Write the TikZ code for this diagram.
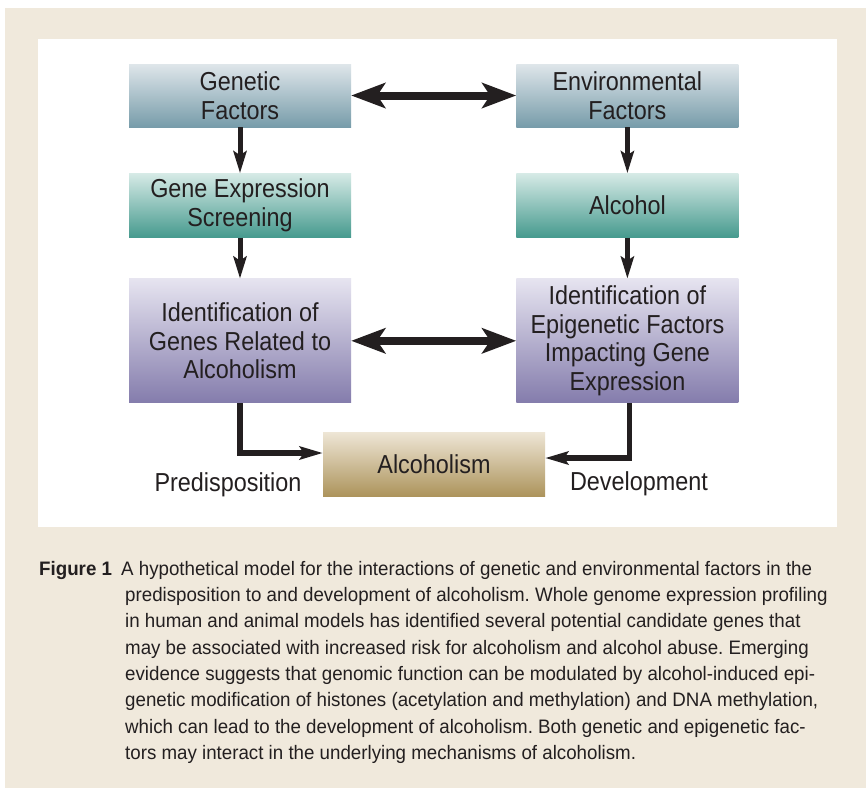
\documentclass[tikz,border=0pt]{standalone}
\usepackage{fontspec}
\setmainfont{Liberation Sans}[FakeStretch=0.9]
\newfontfamily\capfam{Liberation Sans}[FakeStretch=0.96]
\usepackage{tikz}
\usetikzlibrary{arrows.meta,positioning}
\definecolor{cBg}{HTML}{F0E9DC}
\definecolor{cInk}{HTML}{231F20}
\definecolor{cBlueT}{HTML}{DFE6EA}
\definecolor{cBlueB}{HTML}{779CAA}
\definecolor{cTealT}{HTML}{D6EAE6}
\definecolor{cTealB}{HTML}{469A8E}
\definecolor{cPurpT}{HTML}{E6E4F0}
\definecolor{cPurpB}{HTML}{847CAC}
\definecolor{cTanT}{HTML}{EEE6D6}
\definecolor{cTanB}{HTML}{AD945C}
\newcommand{\boxfont}{\fontsize{26}{28.8}\selectfont}
\newcommand{\capfont}{\capfam\fontsize{19.5}{26.3}\selectfont\frenchspacing}

\begin{document}
\begin{tikzpicture}[
    x=1pt, y=-1pt,
    font=\boxfont,
    node distance=46pt and 165pt,
    box/.style={inner sep=0pt, minimum width=222pt, minimum height=63pt,
                align=center, text=cInk},
    factbox/.style={box, top color=cBlueT, bottom color=cBlueB},
    screenbox/.style={box, minimum height=64pt, top color=cTealT, bottom color=cTealB},
    idbox/.style={box, minimum height=124pt, top color=cPurpT, bottom color=cPurpB},
    outbox/.style={box, minimum height=64pt, top color=cTanT, bottom color=cTanB},
    both/.style={{Stealth[length=34pt,width=25pt,inset=8pt]}-{Stealth[length=34pt,width=25pt,inset=8pt]},
                 line width=8pt, draw=cInk},
    vflow/.style={-{Stealth[length=22pt,width=13pt,inset=4pt]}, line width=5pt, draw=cInk},
    elbow/.style={-{Stealth[length=23pt,width=13pt,inset=4pt]}, line width=5.5pt, draw=cInk},
    lbl/.style={text=cInk}
]
\useasboundingbox (0,0) rectangle (866,788);

% --- page and panel ---
\fill[cBg] (5,8) rectangle (866,788);
\fill[white] (38,39) rectangle (837,527);

% --- top row ---
\node[factbox] (genetic) at (240,95.5) {Genetic\\Factors};
\node[factbox, right=165pt of genetic] (environ) {Environmental\\Factors};

% --- second row ---
\node[screenbox, below=46pt of genetic] (screening) {Gene Expression\\Screening};
\node[screenbox, below=46pt of environ] (alcohol) {Alcohol};

% --- identification ---
\node[idbox, below=41pt of screening] (idgenes)
  {Identification of\\Genes Related to\\Alcoholism};
\node[idbox, below=41pt of alcohol] (idepi)
  {Identification of\\Epigenetic Factors\\Impacting Gene\\Expression};

% --- outcome ---
\node[outbox] (alcoholism) at (434,464) {Alcoholism};

% --- arrows ---
\draw[both] (genetic) -- (environ);
\draw[vflow] (genetic) -- (screening);
\draw[vflow] (environ) -- (alcohol);
\draw[vflow] (screening) -- (idgenes);
\draw[vflow] (alcohol) -- (idepi);
\draw[both] (idgenes) -- (idepi);
\draw[elbow] (idgenes.south) |- ([yshift=11pt]alcoholism.west);
\draw[elbow] ([xshift=2pt]idepi.south) |- ([yshift=6pt]alcoholism.east);

% path labels
\node[lbl] (predis) at (228,485) {Predisposition};
\node[lbl] (devel) at (639,484) {Development};

% --- caption ---
\node[anchor=north west, inner sep=0pt, align=left, text=cInk, font=\capfont] (caption) at (39,561)
  {\makebox[82pt][l]{\textbf{Figure 1}}A hypothetical model for the interactions of genetic and environmental factors in the\\
   \hspace*{86pt}predisposition to and development of alcoholism. Whole genome expression profiling\\
   \hspace*{86pt}in human and animal models has identified several potential candidate genes that\\
   \hspace*{86pt}may be associated with increased risk for alcoholism and alcohol abuse. Emerging\\
   \hspace*{86pt}evidence suggests that genomic function can be modulated by alcohol-induced epi-\\
   \hspace*{86pt}genetic modification of histones (acetylation and methylation) and DNA methylation,\\
   \hspace*{86pt}which can lead to the development of alcoholism. Both genetic and epigenetic fac-\\
   \hspace*{86pt}tors may interact in the underlying mechanisms of alcoholism.};

\end{tikzpicture}
\end{document}
